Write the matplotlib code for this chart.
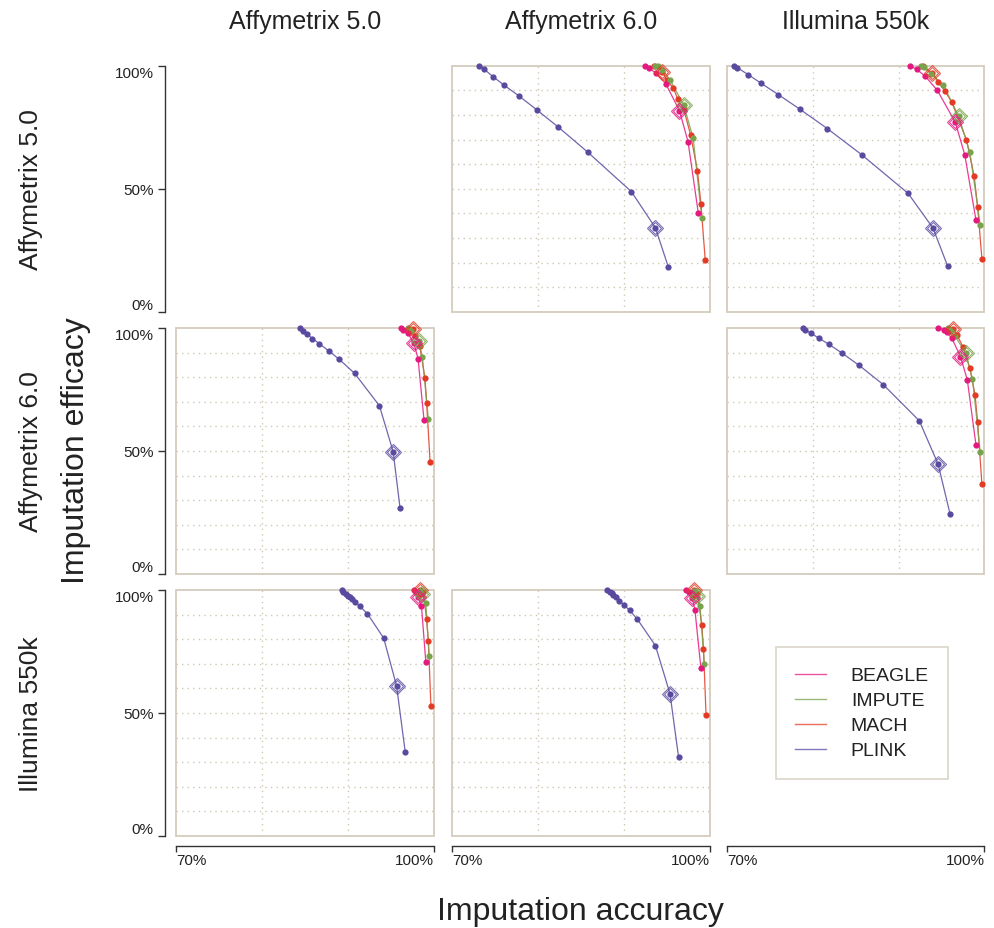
import matplotlib.pyplot as plt
from matplotlib.lines import Line2D
from matplotlib.patches import Rectangle

plt.rcParams['font.family'] = ['Liberation Sans', 'DejaVu Sans']

platforms = ['Affymetrix 5.0', 'Affymetrix 6.0', 'Illumina 550k']
methods = ['BEAGLE', 'IMPUTE', 'MACH', 'PLINK']
colors = {'BEAGLE': '#e4197f', 'IMPUTE': '#78a24b', 'MACH': '#e23a24', 'PLINK': '#5a4a9f'}

# (accuracy %, efficacy %) per method, row = reference platform, col = target platform
r0_c1 = {
    'PLINK': ([73.2, 73.7, 74.8, 76.1, 77.8, 79.9, 82.4, 85.8, 90.9, 93.7, 95.2],
              [100, 98.7, 95.5, 92.0, 87.7, 82.0, 75.0, 64.9, 48.8, 34.1, 18.2]),
    'MACH': ([93.5, 94.5, 95.0, 95.8, 96.3, 97.0, 97.8, 98.6, 99.0, 99.5],
             [100, 97.6, 94.3, 90.8, 86.5, 82.4, 71.8, 57.3, 43.9, 21.1]),
    'IMPUTE': ([93.7, 94.0, 94.5, 95.4, 97.0, 98.1, 99.1],
               [100, 99.7, 98.3, 94.3, 84.0, 70.5, 38.2]),
    'BEAGLE': ([92.5, 93.0, 93.8, 94.9, 96.5, 97.5, 98.7],
               [100, 98.9, 96.9, 92.7, 81.7, 69.1, 40.0]),
}
r0_c2 = {
    'PLINK': ([70.8, 71.2, 72.5, 74.0, 76.0, 78.5, 81.7, 85.7, 91.1, 94.0, 95.7],
              [100, 99.2, 96.3, 92.8, 88.2, 82.3, 74.4, 63.8, 48.1, 34.0, 18.6]),
    'MACH': ([92.8, 93.9, 94.6, 95.4, 96.2, 97.9, 98.8, 99.2, 99.7],
             [100, 97.0, 93.5, 89.6, 85.1, 69.8, 55.0, 42.7, 21.4]),
    'IMPUTE': ([92.6, 92.9, 93.8, 95.2, 97.0, 98.3, 99.5],
               [100, 99.3, 96.6, 92.2, 79.4, 64.8, 35.4]),
    'BEAGLE': ([91.3, 92.1, 93.1, 94.5, 96.6, 97.7, 99.0],
               [100, 98.5, 95.7, 90.0, 77.0, 63.8, 37.4]),
}
r1_c0 = {
    'PLINK': ([84.4, 84.8, 85.3, 85.9, 86.7, 87.8, 89.0, 90.8, 93.7, 95.3, 96.1],
              [100, 98.9, 97.4, 95.7, 93.6, 90.7, 87.3, 81.6, 68.4, 49.7, 26.9]),
    'MACH': ([97.6, 97.9, 98.4, 99.0, 99.2, 99.6],
             [99.7, 96.6, 92.5, 79.7, 69.6, 45.7]),
    'IMPUTE': ([97.0, 97.4, 98.3, 98.7, 99.4],
               [100, 98.6, 94.6, 88.2, 63.1]),
    'BEAGLE': ([96.2, 96.5, 97.0, 97.7, 98.2, 98.9],
               [100, 99.3, 98.0, 93.9, 87.6, 62.4]),
}
r1_c2 = {
    'PLINK': ([78.8, 79.1, 79.8, 80.7, 81.9, 83.4, 85.4, 88.2, 92.4, 94.6, 96.0],
              [100, 99.3, 97.8, 95.9, 93.3, 89.8, 84.8, 77.0, 62.3, 44.6, 24.2]),
    'MACH': ([96.3, 96.8, 97.5, 98.3, 98.9, 99.2, 99.7],
             [99.5, 97.1, 92.3, 83.6, 72.8, 61.6, 36.4]),
    'IMPUTE': ([95.7, 96.1, 96.6, 97.8, 98.6, 99.5],
               [100, 98.9, 96.6, 89.8, 79.3, 49.6]),
    'BEAGLE': ([94.6, 95.3, 95.6, 96.2, 97.2, 98.0, 99.0],
               [100, 99.2, 98.2, 95.8, 88.4, 78.9, 52.6]),
}
r2_c0 = {
    'PLINK': ([89.3, 89.5, 89.8, 90.0, 90.3, 90.5, 90.9, 91.4, 92.3, 94.2, 95.7, 96.7],
              [100, 99.3, 98.5, 97.7, 97.0, 96.2, 95.1, 93.4, 90.4, 80.4, 61.0, 34.3]),
    'MACH': ([98.4, 98.8, 99.2, 99.4, 99.7],
             [100, 99.1, 88.1, 79.1, 52.8]),
    'IMPUTE': ([98.4, 98.7, 99.1, 99.5],
               [99.7, 98.4, 94.6, 73.2]),
    'BEAGLE': ([97.7, 98.0, 98.2, 98.6, 99.1],
               [100, 99.0, 97.0, 93.4, 70.9]),
}
r2_c1 = {
    'PLINK': ([88.1, 88.4, 88.6, 88.8, 89.1, 89.5, 90.0, 90.7, 91.6, 93.7, 95.4, 96.4],
              [100, 99.3, 98.6, 97.8, 97.0, 95.6, 94.1, 91.7, 88.1, 77.4, 57.8, 32.0]),
    'MACH': ([98.2, 98.6, 99.1, 99.3, 99.6],
             [100, 98.4, 85.9, 76.1, 49.1]),
    'IMPUTE': ([98.2, 98.6, 98.9, 99.4],
               [99.7, 97.7, 93.4, 69.9]),
    'BEAGLE': ([97.3, 97.6, 98.0, 98.3, 99.0],
               [100, 99.3, 96.6, 92.0, 68.2]),
}

# index of the default-threshold point (drawn as a diamond)
default_idx = {
    (0, 1): {'PLINK': 9, 'MACH': 1, 'IMPUTE': 4, 'BEAGLE': 4},
    (0, 2): {'PLINK': 9, 'MACH': 1, 'IMPUTE': 4, 'BEAGLE': 4},
    (1, 0): {'PLINK': 9, 'MACH': 0, 'IMPUTE': 2, 'BEAGLE': 3},
    (1, 2): {'PLINK': 9, 'MACH': 0, 'IMPUTE': 3, 'BEAGLE': 4},
    (2, 0): {'PLINK': 10, 'MACH': 0, 'IMPUTE': 1, 'BEAGLE': 2},
    (2, 1): {'PLINK': 10, 'MACH': 0, 'IMPUTE': 1, 'BEAGLE': 2},
}
panels = {(0, 1): r0_c1, (0, 2): r0_c2, (1, 0): r1_c0,
          (1, 2): r1_c2, (2, 0): r2_c0, (2, 1): r2_c1}

frame_col = '#d3cbbd'
grid_col = '#cfc7b2'
axis_col = '#333333'

fig = plt.figure(figsize=(9.95, 9.29), dpi=100)
lefts = [176 / 995, 452 / 995, 727 / 995]
bottoms = [1 - 312.7 / 929, 1 - 575 / 929, 1 - 837 / 929]
w, h = 257.5 / 995, 246 / 929

for r in range(3):
    for c in range(3):
        ax = fig.add_axes([lefts[c], bottoms[r], w, h])
        ax.set_xlim(70, 100)
        ax.set_ylim(0, 100)
        ax.patch.set_alpha(0)
        for sp in ax.spines.values():
            sp.set_visible(False)
        ax.set_xticks([])
        ax.set_yticks([])

        if c == 0:
            sp = ax.spines['left']
            sp.set_visible(True)
            sp.set_position(('outward', 8))
            sp.set_color(axis_col)
            sp.set_linewidth(1)
            ax.set_yticks([0, 50, 100])
            ax.set_yticklabels(['0%', '50%', '100%'])
            ax.tick_params(axis='y', length=5, width=1, color=axis_col,
                           labelsize=11, labelcolor='#222222', pad=3)
            labs = ax.get_yticklabels()
            labs[0].set_va('bottom')
            labs[2].set_va('top')
        if r == 2:
            sp = ax.spines['bottom']
            sp.set_visible(True)
            sp.set_position(('outward', 7))
            sp.set_color(axis_col)
            sp.set_linewidth(1)
            ax.set_xticks([70, 100])
            ax.set_xticklabels(['70%', '100%'])
            ax.tick_params(axis='x', length=4, width=1, color=axis_col,
                           labelsize=11, labelcolor='#222222', pad=1)
            labs = ax.get_xticklabels()
            labs[0].set_ha('left')
            labs[1].set_ha('right')

        if (r, c) in panels:
            data = panels[(r, c)]
            ax.add_patch(Rectangle((0, 0), 1, 1, transform=ax.transAxes, fill=False,
                                   ec=frame_col, lw=1.3, clip_on=False, zorder=1))
            for gx in [80, 90]:
                ax.axvline(gx, color=grid_col, lw=1, ls=(0, (1, 3)), zorder=0)
            for gy in range(10, 100, 10):
                ax.axhline(gy, color=grid_col, lw=1, ls=(0, (1, 3)), zorder=0)
            for m in ['PLINK', 'MACH', 'IMPUTE', 'BEAGLE']:
                acc, eff = data[m]
                col = colors[m]
                ax.plot(acc, eff, '-', color=col, lw=0.9, alpha=0.85, zorder=3, clip_on=False)
                ax.plot(acc, eff, 'o', color=col, ms=4.5, mec='none', zorder=4, clip_on=False)
                k = default_idx[(r, c)][m]
                for size in [6, 8.5]:
                    ax.plot(acc[k], eff[k], 'D', mfc='none', mec=col, ms=size, mew=0.8,
                            alpha=0.8, zorder=5, clip_on=False)

        if (r, c) == (2, 2):
            handles = [Line2D([0], [0], color=colors[m], lw=1, alpha=0.75) for m in methods]
            leg = ax.legend(handles, methods, loc='center', bbox_to_anchor=(0.525, 0.5),
                            fontsize=14, frameon=True, fancybox=False, handlelength=1.55,
                            handletextpad=1.3, borderpad=1.0, labelspacing=0.38,
                            borderaxespad=0)
            leg.get_frame().set_edgecolor(frame_col)
            leg.get_frame().set_linewidth(1.2)
            for t in leg.get_texts():
                t.set_color('#222222')

for c, name in enumerate(platforms):
    fig.text(lefts[c] + w / 2, 1 - 22 / 929, name, ha='center', va='center',
             fontsize=18, color='#222222')
for r, name in enumerate(platforms):
    fig.text(31 / 995, bottoms[r] + h / 2, name, ha='center', va='center',
             rotation=90, fontsize=19, color='#222222')

fig.text(76 / 995, 1 - 451 / 929, 'Imputation efficacy', ha='center', va='center',
         rotation=90, fontsize=23, color='#222222')
fig.text(580 / 995, 1 - 912 / 929, 'Imputation accuracy', ha='center', va='center',
         fontsize=23, color='#222222')

fig.savefig('out.png', dpi=100)
